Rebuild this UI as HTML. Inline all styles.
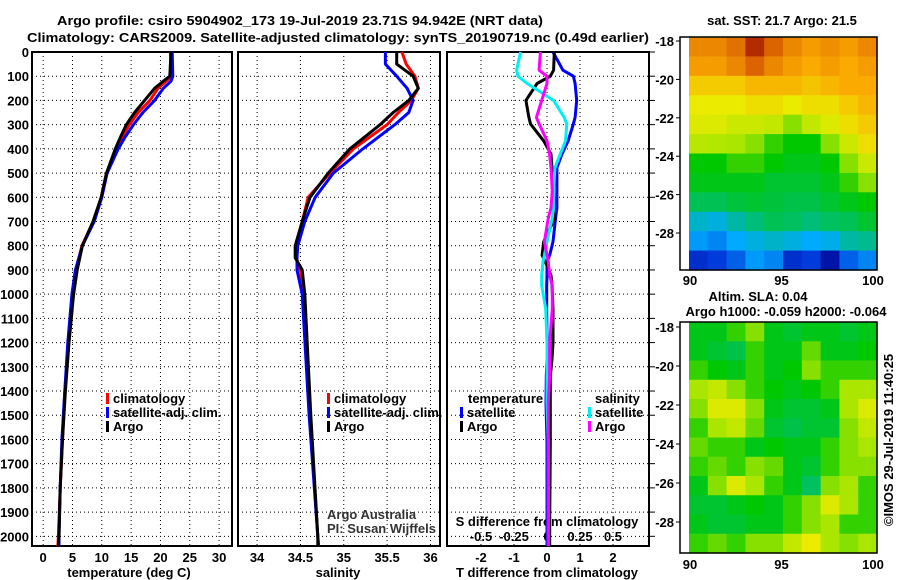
<!DOCTYPE html>
<html><head><meta charset="utf-8"><style>
html,body{margin:0;padding:0;background:#fff;}
svg{display:block;font-family:"Liberation Sans",sans-serif;}
.b{font-weight:bold;font-size:13px;}
</style></head><body>
<svg id="c" width="900" height="580" viewBox="0 0 900 580"></svg>
<script>
// ---------- data ----------
const depthT = [0,100,120,150,200,250,300,350,400,500,600,700,800,900,1000,1200,1400,1600,1800,2000,2040];
const tempClim = [21.7,21.9,21.0,19.6,18.2,16.2,14.7,13.5,12.5,10.8,9.9,8.6,6.6,5.6,5.0,4.3,3.7,3.3,2.9,2.6,2.5];
const tempSat  = [22.0,22.1,21.8,20.5,19.0,17.0,15.4,14.0,12.8,10.9,10.0,8.7,6.7,5.5,4.9,4.2,3.7,3.2,2.9,2.7,2.7];
const tempArgo = [21.8,21.6,20.5,19.0,17.3,15.6,14.2,13.2,12.3,10.8,9.9,8.5,6.7,5.8,5.2,4.4,3.8,3.3,2.9,2.7,2.6];
const depthS = [0,50,100,150,200,250,300,400,500,600,700,800,850,900,1000,1500,2000,2040];
const salClim = [35.67,35.72,35.82,35.86,35.78,35.63,35.50,35.11,34.84,34.59,34.52,34.46,34.45,34.50,34.54,34.61,34.70,34.71];
const salSat  = [35.48,35.48,35.61,35.73,35.80,35.75,35.59,35.22,34.88,34.67,34.55,34.47,34.46,34.46,34.52,34.60,34.70,34.71];
const salArgo = [35.61,35.61,35.80,35.86,35.75,35.57,35.42,35.07,34.82,34.61,34.52,34.44,34.44,34.52,34.55,34.62,34.70,34.70];
const depthD = [0,75,100,130,200,270,297,367,422,478,575,644,686,783,839,867,922,964,1061,1200,1269,1339,1450,1617,1936,2040];
const dTSat  = [0.18,0.48,0.8,0.85,0.9,0.85,0.8,0.64,0.45,0.3,0.3,0.3,0.26,0.18,0.08,0.0,0.0,-0.01,-0.01,0.0,0.0,-0.02,-0.03,0.0,0.0,0.0];
const dTArgo = [0.22,0.2,0.1,-0.3,-0.64,-0.55,-0.5,-0.1,0.12,0.15,0.2,0.22,0.24,-0.1,-0.15,-0.05,0.12,0.15,0.18,0.18,0.15,0.1,0.1,0.1,0.08,0.08];
const dSSat  = [-0.2,-0.23,-0.22,-0.15,0.05,0.13,0.15,0.14,0.1,0.06,0.05,0.05,0.04,0.0,-0.02,-0.03,-0.04,-0.04,-0.01,0.0,0.0,0.0,0.0,0.01,0.01,0.01];
const dSArgo = [-0.05,-0.06,0.0,0.0,-0.04,-0.08,-0.06,0.0,0.02,0.03,0.04,0.03,0.01,-0.02,0.0,0.01,0.02,0.04,0.04,0.02,0.02,0.02,0.01,0.01,0.01,0.01];
const depthTicks = [0,100,200,300,400,500,600,700,800,900,1000,1100,1200,1300,1400,1500,1600,1700,1800,1900,2000];
const tempTicks = [0,5,10,15,20,25,30];
const salTicks = [34,34.5,35,35.5,36];
const dTTicks = [-2,-1,0,1,2];
const dSTicks = [-0.5,-0.25,0,0.25,0.5];
const latTicks = [-18,-20,-22,-24,-26,-28];
const lonTicks = [90,95,100];
const sstGrid = [
[.85,.85,.88,.97,.9,.85,.82,.84,.82,.85],
[.82,.82,.85,.9,.85,.82,.8,.82,.8,.82],
[.75,.75,.75,.78,.78,.78,.76,.78,.8,.8],
[.7,.7,.7,.72,.72,.7,.72,.72,.75,.78],
[.68,.68,.66,.66,.65,.6,.65,.68,.72,.75],
[.64,.63,.62,.6,.55,.52,.52,.6,.66,.72],
[.52,.52,.55,.55,.52,.5,.5,.52,.6,.66],
[.5,.5,.5,.5,.48,.48,.48,.5,.55,.6],
[.45,.45,.47,.48,.47,.46,.46,.48,.5,.52],
[.35,.33,.38,.42,.45,.44,.42,.44,.45,.48],
[.28,.25,.3,.33,.35,.33,.3,.32,.38,.4],
[.12,.15,.2,.28,.25,.12,.15,.05,.2,.25]];
const slaGrid = [
[.5,.5,.55,.6,.5,.48,.5,.5,.48,.5],
[.5,.48,.46,.55,.5,.5,.58,.5,.5,.52],
[.55,.52,.5,.55,.5,.52,.6,.55,.55,.55],
[.62,.65,.6,.55,.52,.5,.52,.55,.62,.62],
[.6,.68,.68,.6,.5,.48,.48,.5,.62,.68],
[.55,.62,.65,.58,.48,.46,.48,.48,.6,.65],
[.58,.55,.55,.5,.52,.5,.5,.55,.6,.62],
[.55,.58,.55,.6,.58,.5,.48,.55,.6,.6],
[.5,.6,.68,.62,.55,.5,.44,.6,.62,.55],
[.48,.48,.5,.52,.5,.55,.6,.68,.62,.55],
[.5,.48,.48,.5,.5,.55,.6,.62,.55,.55],
[.55,.58,.55,.6,.6,.65,.7,.62,.6,.62]];

// ---------- helpers ----------
const NS="http://www.w3.org/2000/svg";
const svg=document.getElementById('c');
function mk(tag,attrs,parent){const e=document.createElementNS(NS,tag);for(const k in attrs)e.setAttribute(k,attrs[k]);(parent||svg).appendChild(e);return e;}
function txt(x,y,s,anchor,cls,extra){const e=mk('text',Object.assign({x:x,y:y,'text-anchor':anchor||'start',class:cls||'b'},extra||{}));e.textContent=s;return e;}
const TOP=52,BOT=546,DMAX=2040;
const yD=d=>TOP+(BOT-TOP)*d/DMAX;
const panels=[
 {x0:32,x1:232,v0:-1.9,v1:32.2,ticks:tempTicks,name:'temperature-panel'},
 {x0:238,x1:440,v0:33.78,v1:36.11,ticks:salTicks,name:'salinity-panel'},
 {x0:447,x1:649,v0:-3.03,v1:3.09,ticks:dTTicks,name:'difference-panel'}];
panels.forEach(p=>{p.f=v=>p.x0+(p.x1-p.x0)*(v-p.v0)/(p.v1-p.v0);});
const xS=v=>547+132*v;

// titles
let t=txt(300,25,'Argo profile: csiro 5904902_173 19-Jul-2019 23.71S 94.942E (NRT data)','middle','b',{textLength:486,lengthAdjust:'spacingAndGlyphs','font-size':'14'});

t=txt(338,42,'Climatology: CARS2009. Satellite-adjusted climatology: synTS_20190719.nc (0.49d earlier)','middle','b',{textLength:622,lengthAdjust:'spacingAndGlyphs','font-size':'14'});


// panels
panels.forEach((p,i)=>{
 const g=mk('g',{});
 
 
 depthTicks.forEach(d=>{const l=mk('line',{x1:p.x0,x2:p.x1,y1:yD(d),y2:yD(d),stroke:'#000','stroke-width':1,'stroke-dasharray':'1,3'},g);
   });
 p.ticks.forEach(v=>{const l=mk('line',{x1:p.f(v),x2:p.f(v),y1:TOP,y2:BOT,stroke:'#000','stroke-width':1,'stroke-dasharray':'1,3'},g);
   
   const tl=txt(p.f(v),562,String(v),'middle','b');});
 const r=mk('rect',{x:p.x0,y:TOP,width:p.x1-p.x0,height:BOT-TOP,fill:'none',stroke:'#000','stroke-width':2},g);
 
});
// S ticks in diff panel
dSTicks.forEach(v=>{const tl=txt(xS(v),541,String(v),'middle','b',{'font-size':'12'});});
t=txt(547,526,'S difference from climatology','middle','b');
// depth labels
depthTicks.forEach(d=>{const tl=txt(29,yD(d)+5,String(d),'end','b');
 const tk=mk('line',{x1:649,x2:655,y1:yD(d),y2:yD(d),stroke:'#000','stroke-width':1});});
t=txt(129,577,'temperature (deg C)','middle','b');
t=txt(338,577,'salinity','middle','b');
t=txt(547,577,'T difference from climatology','middle','b');

function series(depths,vals,fx,color,name,w){
 const pts=depths.map((d,i)=>fx(vals[i]).toFixed(1)+','+yD(d).toFixed(1)).join(' ');
 const l=mk('polyline',{points:pts,fill:'none',stroke:color,'stroke-width':w||3,'stroke-linejoin':'round'});
 
 
}
series(depthT,tempClim,panels[0].f,'#ff0000','temperature-climatology-line');
series(depthT,tempSat,panels[0].f,'#0000ff','temperature-satellite-line');
series(depthT,tempArgo,panels[0].f,'#000000','temperature-argo-line');
series(depthS,salClim,panels[1].f,'#ff0000','salinity-climatology-line');
series(depthS,salSat,panels[1].f,'#0000ff','salinity-satellite-line');
series(depthS,salArgo,panels[1].f,'#000000','salinity-argo-line');
series(depthD,dTSat,panels[2].f,'#0000ff','t-diff-satellite-line');
series(depthD,dTArgo,panels[2].f,'#000000','t-diff-argo-line');
series(depthD,dSSat,xS,'#00f0f0','s-diff-satellite-line');
series(depthD,dSArgo,xS,'#ff00ff','s-diff-argo-line');

function leg(x,y,color,label,name){
 const r=mk('rect',{x:x,y:y-10,width:3,height:11,fill:color});
 
 const tl=txt(x+7,y,label,'start','b');
}
leg(106,403,'#ff0000','climatology','legend-climatology');
leg(106,417,'#0000ff','satellite-adj. clim.','legend-satellite-adj');
leg(106,431,'#000','Argo','legend-argo');
leg(327,403,'#ff0000','climatology','legend-climatology-s');
leg(327,417,'#0000ff','satellite-adj. clim.','legend-satellite-adj-s');
leg(327,431,'#000','Argo','legend-argo-s');
t=txt(468,403,'temperature','start','b');
t=txt(595,403,'salinity','start','b');
leg(460,417,'#0000ff','satellite','legend-t-satellite');
leg(460,431,'#000','Argo','legend-t-argo');
leg(588,417,'#00f0f0','satellite','legend-s-satellite');
leg(588,431,'#ff00ff','Argo','legend-s-argo');
t=txt(327,519,'Argo Australia','start','',{'font-size':'12',fill:'#333'});
t=txt(327,533,'PI: Susan Wijffels','start','',{'font-size':'12',fill:'#333'});

// colormap
const stops=[[0,[0,0,140]],[0.15,[0,60,220]],[0.3,[0,170,255]],[0.42,[0,190,120]],[0.52,[0,200,0]],[0.62,[170,230,0]],[0.7,[235,235,0]],[0.8,[250,170,0]],[0.9,[220,100,0]],[1,[160,20,0]]];
function cmap(v){for(let i=1;i<stops.length;i++){if(v<=stops[i][0]){const a=stops[i-1],b=stops[i],f=(v-a[0])/(b[0]-a[0]);return 'rgb('+a[1].map((c,k)=>Math.round(c+(b[1][k]-c)*f)).join(',')+')';}}return 'rgb(160,20,0)';}
function map(grid,top,bot,latY,lonY,name){
 const X0=689,X1=877,F0=680;
 const g=mk('g',{});
 const rows=grid.length,cols=grid[0].length,cw=(X1-X0)/cols,ch=(bot-top)/rows;
 grid.forEach((row,ri)=>row.forEach((v,ci)=>{const c=mk('rect',{x:X0+ci*cw,y:top+ri*ch,width:cw+0.6,height:ch+0.6,fill:cmap(v)},g);
  }));
 const fr=mk('rect',{x:F0,y:top,width:X1-F0,height:bot-top,fill:'none',stroke:'#000','stroke-width':1.5},g);
 
 latTicks.forEach(l=>{const y=latY(l);const tl=txt(674,y+5,String(l),'end','b');
  const tk=mk('line',{x1:676,x2:680,y1:y,y2:y,stroke:'#000'});});
 lonTicks.forEach(l=>{const x=690+18.3*(l-90);const tl=txt(x,lonY,String(l),'middle','b');});
}
map(sstGrid,37,270,l=>41+(-18-l)*19.2,285,'sst-map');
map(slaGrid,322,553,l=>327+(-18-l)*19.5,569,'sla-map');
t=txt(782,25,'sat. SST: 21.7 Argo: 21.5','middle','b');
t=txt(758,301,'Altim. SLA: 0.04','middle','b');
t=txt(786,316,'Argo h1000: -0.059 h2000: -0.064','middle','b');
t=txt(893,440,'©IMOS 29-Jul-2019 11:40:25','middle','',{'font-size':'12',transform:'rotate(-90 893 440)'});
</script>
</body></html>
